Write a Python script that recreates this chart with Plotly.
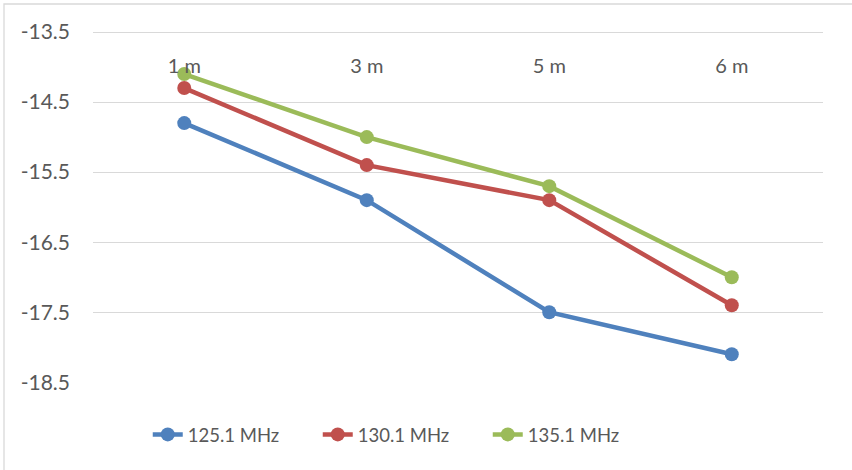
import plotly.graph_objects as go

distances = ["1 m", "3 m", "5 m", "6 m"]
series_names = ["125.1 MHz", "130.1 MHz", "135.1 MHz"]
values_125 = [-14.8, -15.9, -17.5, -18.1]
values_130 = [-14.3, -15.4, -15.9, -17.4]
values_135 = [-14.1, -15.0, -15.7, -17.0]
y_ticks = [-13.5, -14.5, -15.5, -16.5, -17.5, -18.5]

colors = ["#4f81bd", "#c0504d", "#9bbb59"]
font_family = "Lato, 'Open Sans', sans-serif"
text_color = "#595959"

fig = go.Figure()
for name, vals, col in zip(series_names, [values_125, values_130, values_135], colors):
    fig.add_trace(go.Scatter(
        x=distances, y=vals, name=name, mode="lines+markers",
        line=dict(color=col, width=4.5),
        marker=dict(color=col, size=14),
    ))

fig.update_layout(
    width=852, height=470,
    margin=dict(l=93, r=29, t=18, b=87),
    paper_bgcolor="white", plot_bgcolor="white",
    font=dict(family=font_family, size=19, color=text_color),
    showlegend=True,
    legend=dict(orientation="h", x=0.075, xanchor="left", y=-0.09, yanchor="top",
                font=dict(size=18.5, color=text_color),
                entrywidth=125, entrywidthmode="pixels",
                tracegroupgap=0),
    xaxis=dict(
        side="top", anchor="free", position=0.837,
        showgrid=False, showline=False, zeroline=False,
        ticks="", tickfont=dict(size=20, color=text_color),
        range=[-0.5, 3.5],
    ),
    yaxis=dict(
        range=[-18.51, -13.3], tickvals=y_ticks,
        ticktext=[f"{v:.1f}" for v in y_ticks],
        showgrid=True, gridcolor="#d9d9d9", gridwidth=1.3,
        zeroline=False, showline=False, ticks="",
        ticklabelstandoff=22,
        tickfont=dict(size=21, color=text_color),
    ),
    shapes=[
        dict(type="rect", xref="paper", yref="paper",
             x0=-89/730, x1=1.2, y0=-0.5, y1=1 + 14/365,
             line=dict(color="#d9d9d9", width=1.3), layer="below"),
    ],
)

fig.write_html("out.html")
